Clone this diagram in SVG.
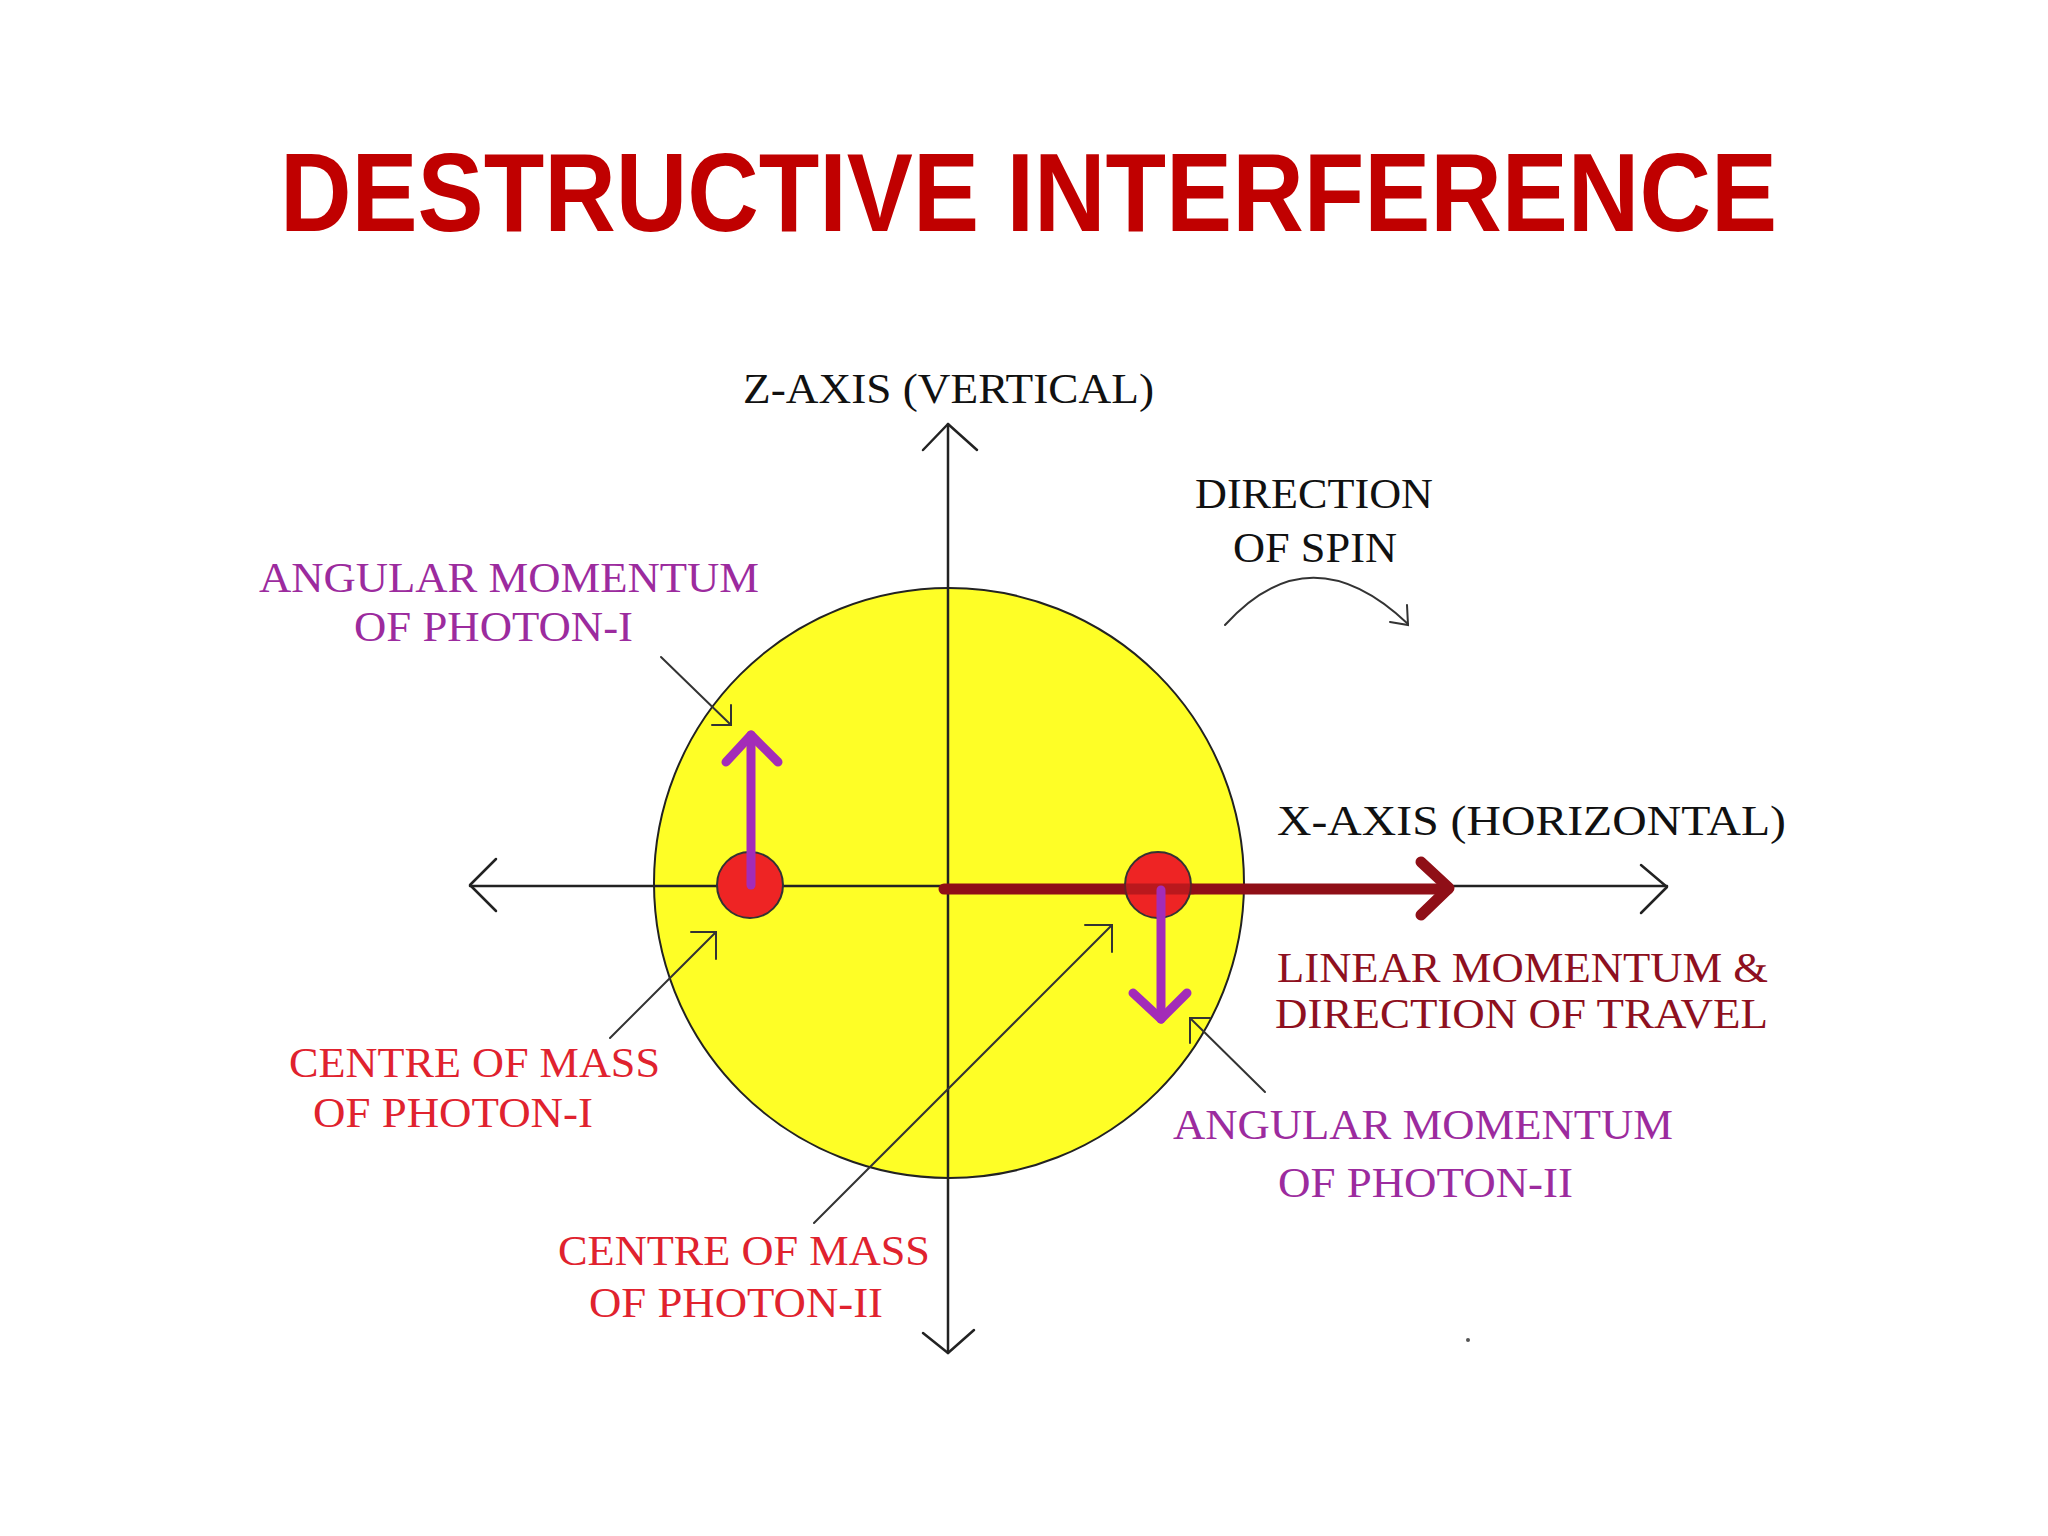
<svg xmlns="http://www.w3.org/2000/svg" width="2048" height="1536" viewBox="0 0 2048 1536">
<style>
.ax{stroke:#222;stroke-width:2.5;fill:none;stroke-linecap:round;stroke-linejoin:round}
.ld{stroke:#333;stroke-width:2;fill:none;stroke-linecap:round;stroke-linejoin:miter}
.pa{stroke:#A32CB8;stroke-width:9;fill:none;stroke-linecap:round;stroke-linejoin:round}
.ra{stroke:#8F0F17;stroke-width:11;fill:none;stroke-linecap:round;stroke-linejoin:round}
.t{font-family:"Liberation Serif","Times New Roman",serif;font-size:42px}
.blk{fill:#111}
.pur{fill:#9C2B9E}
.red{fill:#E0222E}
.drd{fill:#8E1020}
</style>
<rect width="2048" height="1536" fill="#FFFFFF"/>
<text id="title" x="280" y="231" textLength="1497" lengthAdjust="spacingAndGlyphs" font-family="Liberation Sans, Arial, sans-serif" font-weight="bold" font-size="112" fill="#C00000">DESTRUCTIVE INTERFERENCE</text>

<g id="sphere">
<circle cx="949" cy="883" r="295" fill="#FEFE26" stroke="#222" stroke-width="2"/>
</g>

<g id="axes">
<path class="ax" d="M948 424 V1353"/>
<path class="ax" d="M923 450 L948 424 L977 450"/>
<path class="ax" d="M923 1333 L948 1353 L974 1330"/>
<path class="ax" d="M470 886 H1667"/>
<path class="ax" d="M496 859 L470 885 L496 911"/>
<path class="ax" d="M1641 865 L1667 887 L1641 913"/>
</g>

<g id="linear-momentum-arrow">
<path class="ra" d="M944 889 H1448"/>
<path class="ra" d="M1421 862 L1449 888 L1421 915"/>
</g>

<g id="photon-I">
<circle cx="750" cy="885" r="33" fill="#EE2424" stroke="#333" stroke-width="2"/>
<path class="pa" d="M751 885 V735"/>
<path class="pa" d="M726 762 L751 735 L778 762"/>
</g>

<g id="photon-II">
<circle cx="1158" cy="885" r="33" fill="#EE2424" stroke="#333" stroke-width="2"/>
<path class="ra" d="M1126 889 H1192" opacity="0.55"/>
<path class="pa" d="M1161 890 V1019"/>
<path class="pa" d="M1133 993 L1161 1019 L1187 993"/>
</g>

<g id="connectors">
<path class="ld" d="M661 657 L731 725"/>
<path class="ld" d="M712 725 H731 V705"/>
<path class="ld" d="M610 1038 L716 932"/>
<path class="ld" d="M691 932 H716 V959"/>
<path class="ld" d="M814 1223 L1112 925"/>
<path class="ld" d="M1085 925 H1112 V952"/>
<path class="ld" d="M1265 1092 L1190 1018"/>
<path class="ld" d="M1210 1018 H1190 V1043"/>
<path class="ld" d="M1225 625 Q1310 531 1408 624"/>
<path class="ld" d="M1390 622 L1408 625 L1407 605"/>
</g>

<g id="label-z-axis"><text class="t blk" x="743" y="403" textLength="411" lengthAdjust="spacingAndGlyphs">Z-AXIS (VERTICAL)</text></g>
<g id="label-spin">
<text class="t blk" x="1195" y="508" textLength="238" lengthAdjust="spacingAndGlyphs">DIRECTION</text>
<text class="t blk" x="1233" y="562" textLength="164" lengthAdjust="spacingAndGlyphs">OF SPIN</text>
</g>
<g id="label-x-axis"><text class="t blk" x="1277" y="835" textLength="509" lengthAdjust="spacingAndGlyphs">X-AXIS (HORIZONTAL)</text></g>
<g id="label-linear">
<text class="t drd" x="1277" y="982" textLength="491" lengthAdjust="spacingAndGlyphs">LINEAR MOMENTUM &amp;</text>
<text class="t drd" x="1275" y="1028" textLength="493" lengthAdjust="spacingAndGlyphs">DIRECTION OF TRAVEL</text>
</g>
<g id="label-angular-I">
<text class="t pur" x="259" y="592" textLength="500" lengthAdjust="spacingAndGlyphs">ANGULAR  MOMENTUM</text>
<text class="t pur" x="354" y="641" textLength="279" lengthAdjust="spacingAndGlyphs">OF PHOTON-I</text>
</g>
<g id="label-angular-II">
<text class="t pur" x="1173" y="1139" textLength="500" lengthAdjust="spacingAndGlyphs">ANGULAR  MOMENTUM</text>
<text class="t pur" x="1278" y="1197" textLength="295" lengthAdjust="spacingAndGlyphs">OF PHOTON-II</text>
</g>
<g id="label-com-I">
<text class="t red" x="289" y="1077" textLength="371" lengthAdjust="spacingAndGlyphs">CENTRE OF MASS</text>
<text class="t red" x="313" y="1127" textLength="280" lengthAdjust="spacingAndGlyphs">OF PHOTON-I</text>
</g>
<g id="label-com-II">
<text class="t red" x="558" y="1265" textLength="372" lengthAdjust="spacingAndGlyphs">CENTRE OF MASS</text>
<text class="t red" x="589" y="1317" textLength="294" lengthAdjust="spacingAndGlyphs">OF PHOTON-II</text>
</g>
<circle cx="1468" cy="1340" r="2" fill="#555"/>
</svg>
